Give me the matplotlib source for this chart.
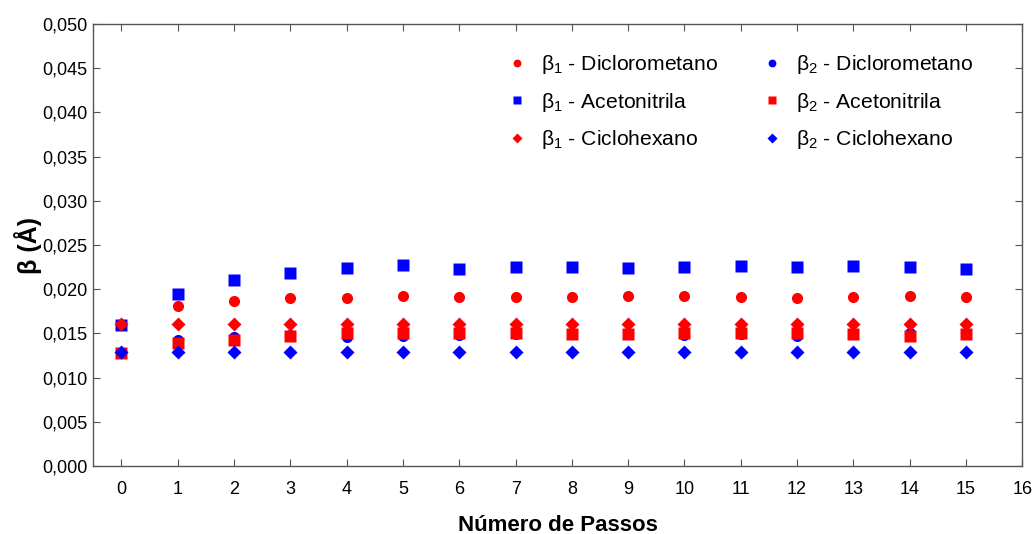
import matplotlib

matplotlib.use("Agg")
import matplotlib.pyplot as plt
from matplotlib.ticker import FuncFormatter

plt.rcParams["font.family"] = ["Liberation Sans", "DejaVu Sans"]
plt.rcParams["mathtext.fontset"] = "custom"
plt.rcParams["mathtext.rm"] = "Liberation Sans"
plt.rcParams["mathtext.it"] = "Liberation Sans"

passos = list(range(16))

b1_diclorometano = [0.0160, 0.0181, 0.0187, 0.0190, 0.0190, 0.0192, 0.0191, 0.0191,
                    0.0191, 0.0192, 0.0192, 0.0191, 0.0190, 0.0191, 0.0192, 0.0191]
b1_acetonitrila = [0.0160, 0.0195, 0.0210, 0.0218, 0.0224, 0.0227, 0.0223, 0.0225,
                   0.0225, 0.0224, 0.0225, 0.0226, 0.0225, 0.0226, 0.0225, 0.0223]
b1_ciclohexano = [0.0161, 0.0161, 0.0161, 0.0161, 0.0161, 0.0161, 0.0161, 0.0161,
                  0.0161, 0.0161, 0.0161, 0.0161, 0.0161, 0.0161, 0.0161, 0.0161]
b2_diclorometano = [0.0128, 0.0143, 0.0146, 0.0148, 0.0146, 0.0147, 0.0148, 0.0149,
                    0.0149, 0.0149, 0.0148, 0.0149, 0.0147, 0.0149, 0.0150, 0.0149]
b2_acetonitrila = [0.0128, 0.0139, 0.0142, 0.0147, 0.0150, 0.0150, 0.0150, 0.0150,
                   0.0149, 0.0149, 0.0150, 0.0150, 0.0150, 0.0149, 0.0147, 0.0149]
b2_ciclohexano = [0.0129, 0.0129, 0.0129, 0.0129, 0.0129, 0.0129, 0.0129, 0.0129,
                  0.0129, 0.0129, 0.0129, 0.0129, 0.0129, 0.0129, 0.0129, 0.0129]

fig = plt.figure(figsize=(10.32, 5.34), dpi=100)
ax = fig.add_axes([0.0904, 0.1273, 0.9002, 0.8277])

ms = 8
h1d, = ax.plot(passos, b1_diclorometano, "o", color="#ff0000", ms=ms, mec="none",
               label="β$_1$ - Diclorometano")
h1a, = ax.plot(passos, b1_acetonitrila, "s", color="#0000ff", ms=ms, mec="none",
               label="β$_1$ - Acetonitrila")
h2d, = ax.plot(passos, b2_diclorometano, "o", color="#0000ff", ms=ms, mec="none",
               label="β$_2$ - Diclorometano")
h2a, = ax.plot(passos, b2_acetonitrila, "s", color="#ff0000", ms=ms, mec="none",
               label="β$_2$ - Acetonitrila")
h1c, = ax.plot(passos, b1_ciclohexano, "D", color="#ff0000", ms=7.5, mec="none",
               label="β$_1$ - Ciclohexano")
h2c, = ax.plot(passos, b2_ciclohexano, "D", color="#0000ff", ms=7.5, mec="none",
               label="β$_2$ - Ciclohexano")

ax.set_xlim(-0.5, 16)
ax.set_ylim(0, 0.05)
ax.set_xticks(range(17))
ax.set_yticks([i * 0.005 for i in range(11)])
ax.yaxis.set_major_formatter(FuncFormatter(lambda v, p: f"{v:.3f}".replace(".", ",")))
ax.tick_params(direction="in", top=True, right=True, length=5, width=0.8,
               color="#555555", labelsize=13)
ax.tick_params(axis="x", pad=11)
ax.tick_params(axis="y", pad=4)
for s in ax.spines.values():
    s.set_color("#555555")
    s.set_linewidth(1.0)

ax.set_xlabel("Número de Passos", fontsize=16, fontweight="bold", labelpad=12)
ax.set_ylabel("β (Å)", fontsize=18, fontweight="bold", labelpad=0)

ax.legend(handles=[h1d, h1a, h1c, h2d, h2a, h2c], ncol=2, frameon=False,
          fontsize=15.2, markerscale=0.7, loc="upper right",
          bbox_to_anchor=(0.968, 0.977), handletextpad=0.4, columnspacing=1.8,
          labelspacing=0.68, handlelength=1.5)

plt.savefig("out.png", dpi=100)
plt.close()
